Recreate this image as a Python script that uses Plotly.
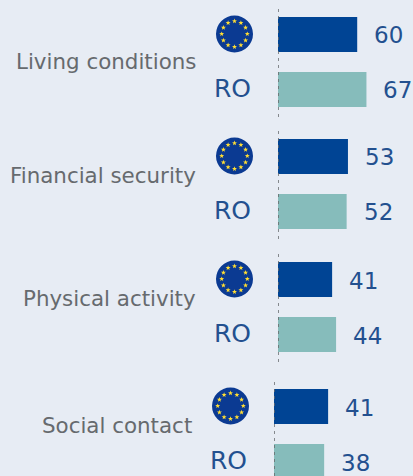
import math
import plotly.graph_objects as go

W, H = 413, 476
categories = ["Living conditions", "Financial security", "Physical activity", "Social contact"]
eu_values = [60, 53, 41, 41]
ro_values = [67, 52, 44, 38]
rows = ["EU", "RO"]

BG = "#E7ECF4"
EU_COLOR = "#004494"
RO_COLOR = "#86BCBB"
BLUE_TEXT = "#23508F"
GREY_TEXT = "#666A6E"
FONT = "DejaVu Sans"

# layout constants (pixels)
group_top = [7, 129, 252, 379]      # top of each panel
axis_x = [278, 278, 278, 274]
label_dy = [0, -9, -9, -9]
STEP = 55
PX_PER_UNIT = 1.32
R_FLAG, R_STARS, R_STAR = 18.5, 12.8, 2.6
STAR_COLOR = "#FFDD33"
FLAG_COLOR = "#0B3A92"


def star_path(cx, cy, r):
    pts = []
    for k in range(10):
        a = -math.pi / 2 + k * math.pi / 5
        rr = r if k % 2 == 0 else r * 0.42
        pts.append(((cx + rr * math.cos(a)) / W, 1 - (cy + rr * math.sin(a)) / H))
    return "M " + " L ".join(f"{x:.5f},{y:.5f}" for x, y in pts) + " Z"


fig = go.Figure()
shapes, annotations = [], []
layout = {}

for i, cat in enumerate(categories):
    s = "" if i == 0 else str(i + 1)
    top, ax = group_top[i], axis_x[i]
    bottom = min(top + 2 * STEP, H)
    y_max = (bottom - top) / STEP - 0.5
    layout[f"xaxis{s}"] = dict(
        domain=[ax / W, 1], range=[0, (W - ax) / PX_PER_UNIT], visible=False,
        anchor=f"y{s}", fixedrange=True,
    )
    layout[f"yaxis{s}"] = dict(
        domain=[1 - bottom / H, 1 - top / H], range=[y_max, -0.5], visible=False,
        type="category", categoryorder="array", categoryarray=rows,
        anchor=f"x{s}", fixedrange=True,
    )
    values = [eu_values[i], ro_values[i]]
    fig.add_trace(go.Bar(
        y=rows, x=values, orientation="h", width=35 / STEP,
        marker=dict(color=[EU_COLOR, RO_COLOR], line_width=0),
        xaxis=f"x{s}", yaxis=f"y{s}", showlegend=False, hoverinfo="skip",
    ))
    # dotted zero line
    shapes.append(dict(type="line", xref=f"x{s}", yref=f"y{s} domain", x0=0, x1=0, y0=0, y1=1,
                       line=dict(color="#66686B", width=1.5, dash="3px,4px"), layer="above"))
    # value labels
    for r, v in zip(rows, values):
        annotations.append(dict(x=v, y=r, xref=f"x{s}", yref=f"y{s}", text=str(v), showarrow=False,
                                xanchor="left", xshift=15, yshift=-1,
                                font=dict(family=FONT, size=23, color=BLUE_TEXT)))
    # RO label
    annotations.append(dict(x=0, y="RO", xref=f"x{s}", yref=f"y{s}", text="RO", showarrow=False,
                            xanchor="right", xshift=-25, yshift=1,
                            font=dict(family=FONT, size=25, color=BLUE_TEXT)))
    # category label
    centre = top + STEP + label_dy[i]
    annotations.append(dict(x=0, y=1 - centre / H, xref=f"x{s}", yref="paper", text=cat, showarrow=False,
                            xanchor="right", xshift=-80, yanchor="middle",
                            font=dict(family=FONT, size=21.4, color=GREY_TEXT)))
    # EU flag icon
    cx, cy = ax - 43.5, top + 27
    shapes.append(dict(type="circle", xref="paper", yref="paper",
                       x0=(cx - R_FLAG) / W, x1=(cx + R_FLAG) / W,
                       y0=1 - (cy + R_FLAG) / H, y1=1 - (cy - R_FLAG) / H,
                       fillcolor=FLAG_COLOR, line_width=0))
    for k in range(12):
        a = k * math.pi / 6
        shapes.append(dict(type="path", xref="paper", yref="paper",
                           path=star_path(cx + R_STARS * math.sin(a), cy - R_STARS * math.cos(a), R_STAR),
                           fillcolor=STAR_COLOR, line_width=0))

fig.update_layout(
    width=W, height=H, margin=dict(l=0, r=0, t=0, b=0),
    paper_bgcolor=BG, plot_bgcolor=BG, barmode="overlay",
    shapes=shapes, annotations=annotations, **layout,
)
fig.write_html("out.html", config={"displayModeBar": False},
               post_script="document.body.style.margin='0';document.documentElement.style.overflow='hidden';")
